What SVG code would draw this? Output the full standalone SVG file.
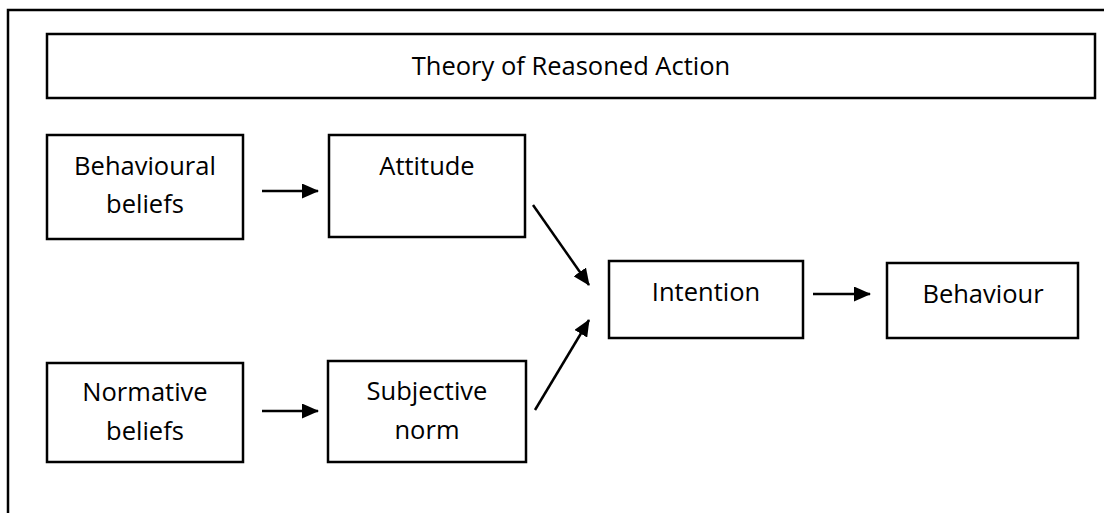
<svg xmlns="http://www.w3.org/2000/svg" width="1104" height="513" viewBox="0 0 1104 513">
<style>
.box{fill:#fff;stroke:#000;stroke-width:2.5}
.t{font-family:"Open Sans","Noto Sans","Liberation Sans",sans-serif;font-size:25.5px;fill:#000;text-anchor:middle}
.c{stroke:#000;stroke-width:2.5;fill:none}
</style>
<defs>
<marker id="ah" markerUnits="userSpaceOnUse" markerWidth="17" markerHeight="15" viewBox="0 0 17 15" refX="16" refY="7.5" orient="auto">
<path d="M0,0 L17,7.5 L0,15 z" fill="#000"/>
</marker>
</defs>
<rect width="1104" height="513" fill="#fff"/>
<rect id="frame" x="8" y="10" width="1120" height="530" fill="none" stroke="#000" stroke-width="2.5"/>
<g id="title">
<rect class="box" x="47" y="34" width="1048" height="64"/>
<text class="t" x="571" y="74.5">Theory of Reasoned Action</text>
</g>
<g id="behavioural-beliefs">
<rect class="box" x="47" y="135" width="196" height="104"/>
<text class="t" x="145" y="175">Behavioural</text>
<text class="t" x="145" y="213">beliefs</text>
</g>
<g id="attitude">
<rect class="box" x="329" y="135" width="196" height="102"/>
<text class="t" x="427" y="175">Attitude</text>
</g>
<g id="normative-beliefs">
<rect class="box" x="47" y="363" width="196" height="99"/>
<text class="t" x="145" y="401">Normative</text>
<text class="t" x="145" y="440">beliefs</text>
</g>
<g id="subjective-norm">
<rect class="box" x="328" y="361" width="198" height="101"/>
<text class="t" x="427" y="400">Subjective</text>
<text class="t" x="427" y="439">norm</text>
</g>
<g id="intention">
<rect class="box" x="609" y="261" width="194" height="77"/>
<text class="t" x="706" y="301">Intention</text>
</g>
<g id="behaviour">
<rect class="box" x="887" y="263" width="191" height="75"/>
<text class="t" x="983" y="303">Behaviour</text>
</g>
<g id="connectors">
<line class="c" x1="262" y1="191" x2="318" y2="191" marker-end="url(#ah)"/>
<line class="c" x1="262" y1="411" x2="318" y2="411" marker-end="url(#ah)"/>
<line class="c" x1="533" y1="205" x2="589" y2="285" marker-end="url(#ah)"/>
<line class="c" x1="535" y1="410" x2="589" y2="320" marker-end="url(#ah)"/>
<line class="c" x1="813" y1="294" x2="870" y2="294" marker-end="url(#ah)"/>
</g>
</svg>
